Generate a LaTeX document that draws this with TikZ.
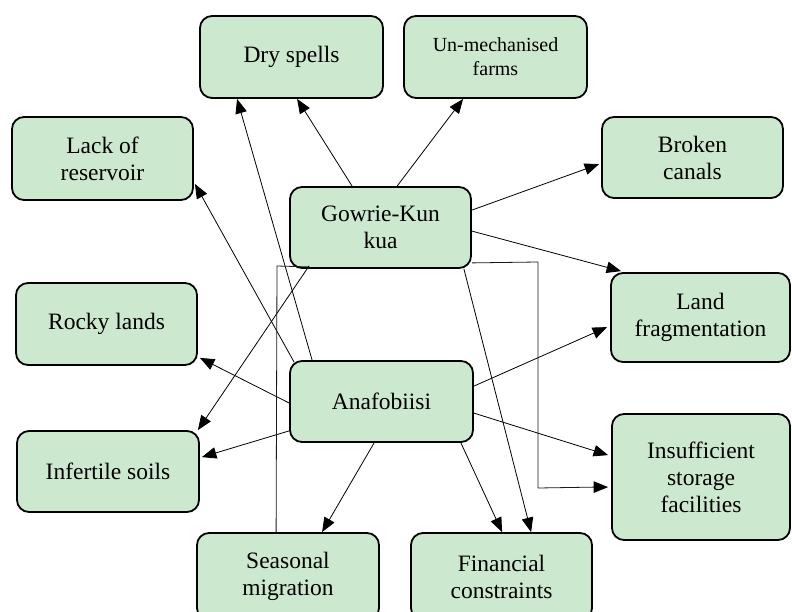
\documentclass[tikz,border=0pt]{standalone}
\usepackage{fontspec}
\setmainfont{Liberation Serif}
\usetikzlibrary{arrows.meta,calc}
\definecolor{boxgreen}{RGB}{204,232,207}
\begin{document}
\begin{tikzpicture}[x=1pt,y=-1pt,
  box/.style={draw=black,line width=1.8pt,fill=boxgreen,rounded corners=12pt,
    inner sep=0pt,align=center,font=\fontsize{23.5}{27}\selectfont},
  conn/.style={line width=0.8pt,-{Triangle[length=14.5pt,width=11.5pt]}},
  elbow/.style={line width=0.8pt,draw=black!90}]
\useasboundingbox (0,0) rectangle (792,612);
\node[box,minimum width=183pt,minimum height=82pt] (dry) at (291.5,57) {Dry spells};
\node[box,minimum width=183pt,minimum height=82pt,font=\fontsize{20}{24}\selectfont] (unmech) at (495.5,57) {Un-mechanised\\farms};
\node[box,minimum width=181pt,minimum height=83pt] (lack) at (102.5,158.5) {Lack of\\reservoir};
\node[box,minimum width=181pt,minimum height=81pt] (broken) at (692.5,157.5) {Broken\\canals};
\node[box,minimum width=181pt,minimum height=81pt] (gowrie) at (380.5,227.5) {Gowrie-Kun\\kua};
\node[box,minimum width=181pt,minimum height=82pt] (rocky) at (106.5,324) {Rocky lands};
\node[box,minimum width=179pt,minimum height=89pt] (land) at (700.5,317.5) {Land\\fragmentation};
\node[box,minimum width=183pt,minimum height=81pt] (anaf) at (381.5,401.5) {Anafobiisi};
\node[box,minimum width=182pt,minimum height=81pt] (infert) at (108,471.5) {Infertile soils};
\node[box,minimum width=178pt,minimum height=126pt] (insuff) at (701,477) {Insufficient\\storage\\facilities};
\node[box,minimum width=182pt,minimum height=87pt] (seasonal) at (288,576.5) {Seasonal\\migration};
\node[box,minimum width=181pt,minimum height=87pt] (financial) at (501.5,576.5) {Financial\\constraints};
% Anafobiisi connectors
\draw[conn] ($(anaf.north west)+(23,0)$) -- ($(dry.south west)+(38,0)$);
\draw[conn] ($(anaf.north west)+(5,2)$) -- ($(lack.south east)+(1,-17)$);
\draw[conn] ($(anaf.west)+(0,1.5)$) -- ($(rocky.south east)+(2,-8)$);
\draw[conn] ($(anaf.south west)+(0,-12)$) -- ($(infert.north east)+(2,27)$);
\draw[conn] ($(anaf.south west)+(85,0)$) -- ($(seasonal.north west)+(126,0)$);
\draw[conn] ($(anaf.south east)+(-13,0)$) -- ($(financial.north west)+(92,0)$);
\draw[conn] ($(anaf.north east)+(0,53)$) -- ($(insuff.north west)+(-3,42)$);
\draw[conn] ($(anaf.north east)+(0,26)$) -- ($(land.north west)+(-3,55)$);
% Gowrie-Kun kua connectors
\draw[conn] ($(gowrie.north west)+(63,0)$) -- ($(dry.south west)+(98,0)$);
\draw[conn] ($(gowrie.north west)+(108,0)$) -- ($(unmech.south west)+(60,0)$);
\draw[conn] ($(gowrie.north east)+(0,24)$) -- ($(broken.north west)+(-2,48)$);
\draw[conn] ($(gowrie.north east)+(0,45)$) -- ($(land.north west)+(11,-1)$);
\draw[conn] ($(gowrie.south east)+(-8,0)$) -- ($(financial.north west)+(121,0)$);
\draw[conn] ($(gowrie.south west)+(20,-3)$) -- ($(infert.north east)+(-2,0)$);
\draw[elbow] ($(gowrie.south east)+(0,-6)$) -- (538,262) -- (538,488) -- ($(insuff.north west)+(-16,74)$);
\draw[conn] ($(insuff.north west)+(-16,74)$) -- ($(insuff.north west)+(-3,74)$);
\draw[elbow] ($(gowrie.south west)+(20,-2)$) -- (277,266) -- ($(seasonal.north west)+(80,0)$);
\end{tikzpicture}
\end{document}
